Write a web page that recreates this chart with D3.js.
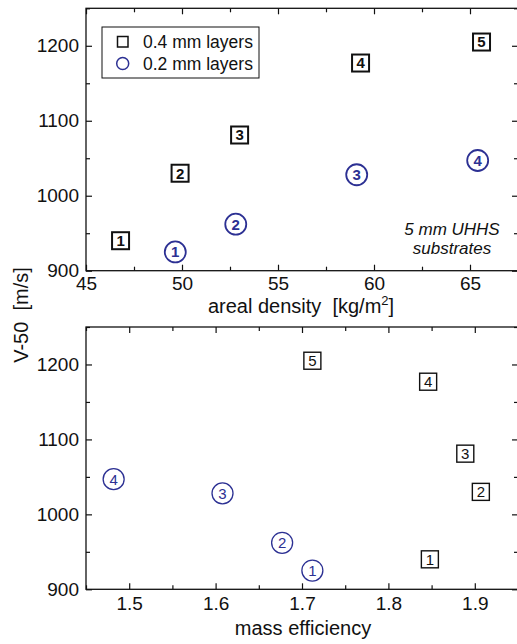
<!DOCTYPE html>
<html lang="en">
<head>
<meta charset="utf-8">
<title>V-50 vs areal density and mass efficiency</title>
<script src="https://cdn.jsdelivr.net/npm/d3@7"></script>
<style>
  body { margin: 0; background: #fff; }
  svg { display: block; font-family: "Liberation Sans", Arial, Helvetica, sans-serif; }
  .tick line { stroke: #111; stroke-width: 1.2; }
  .tick text { font-size: 19px; fill: #111; }
  .frame { fill: none; stroke: #111; stroke-width: 1.3; }
</style>
</head>
<body>
<svg width="517" height="644"></svg>
<script>
// data
var sqLabels = [1, 2, 3, 4, 5];          // 0.4 mm layers
var ciLabels = [1, 2, 3, 4];             // 0.2 mm layers
var areal04 = [46.8, 49.9, 53.0, 59.3, 65.6];
var v50_04  = [940, 1030, 1081, 1177, 1205];
var eff04   = [1.848, 1.907, 1.889, 1.846, 1.712];
var areal02 = [49.65, 52.8, 59.1, 65.4];
var v50_02  = [925, 962, 1028, 1047];
var eff02   = [1.712, 1.677, 1.608, 1.482];

var yTicks = [900, 1000, 1100, 1200];
var yMinor = [950, 1050, 1150, 1250];
var arealTicks = [45, 50, 55, 60, 65];
var arealMinor = [47.5, 52.5, 57.5, 62.5, 67.5];
var effTicks = [1.5, 1.6, 1.7, 1.8, 1.9];
var effMinor = [1.45, 1.55, 1.65, 1.75, 1.85, 1.95];

var blue = "#2c3093";
var svg = d3.select("svg");
var left = 86, right = 518;

function noDomain(a) { a.select(".domain").remove(); }

function panel(top, bottom, xDomain, xTicks, xMinor, fmt, xs04, xs02, bold, pad) {
  var x = d3.scaleLinear().domain(xDomain).range([left, right]);
  var y = d3.scaleLinear().domain([900, 1250]).range([bottom, top]);
  var g = svg.append("g");

  // bottom axis with labels, inward ticks
  g.append("g").attr("transform", "translate(0," + bottom + ")")
    .call(d3.axisBottom(x).tickValues(xTicks).tickSize(-6).tickPadding(pad).tickFormat(fmt)).call(noDomain);
  g.append("g").attr("transform", "translate(0," + bottom + ")")
    .call(d3.axisBottom(x).tickValues(xMinor).tickSize(-4).tickFormat("")).call(noDomain);
  // top mirror ticks
  g.append("g").attr("transform", "translate(0," + top + ")")
    .call(d3.axisTop(x).tickValues(xTicks).tickSize(-6).tickFormat("")).call(noDomain);
  g.append("g").attr("transform", "translate(0," + top + ")")
    .call(d3.axisTop(x).tickValues(xMinor).tickSize(-4).tickFormat("")).call(noDomain);
  // left axis
  g.append("g").attr("transform", "translate(" + left + ",0)")
    .call(d3.axisLeft(y).tickValues(yTicks).tickSize(-6).tickPadding(7).tickFormat(d3.format("d"))).call(noDomain);
  g.append("g").attr("transform", "translate(" + left + ",0)")
    .call(d3.axisLeft(y).tickValues(yMinor).tickSize(-4).tickFormat("")).call(noDomain);
  // right mirror
  g.append("g").attr("transform", "translate(" + right + ",0)")
    .call(d3.axisRight(y).tickValues(yTicks).tickSize(-6).tickFormat("")).call(noDomain);
  g.append("g").attr("transform", "translate(" + right + ",0)")
    .call(d3.axisRight(y).tickValues(yMinor).tickSize(-4).tickFormat("")).call(noDomain);
  g.selectAll(".tick text").attr("font-family", null).attr("font-size", null);

  g.append("rect").attr("class", "frame")
    .attr("x", left).attr("y", top).attr("width", right - left).attr("height", bottom - top);

  var s = 17;
  var sq = g.selectAll(".sq").data(sqLabels).enter().append("g")
    .attr("transform", function(d, i) { return "translate(" + x(xs04[i]) + "," + y(v50_04[i]) + ")"; });
  sq.append("rect").attr("x", -s / 2).attr("y", -s / 2).attr("width", s).attr("height", s)
    .attr("fill", "#fff").attr("stroke", "#111").attr("stroke-width", bold ? 2 : 1.4);
  sq.append("text").attr("text-anchor", "middle").attr("dy", "0.36em")
    .attr("font-size", 15).attr("font-weight", bold ? "bold" : "normal").attr("fill", "#111")
    .text(function(d) { return d; });

  var ci = g.selectAll(".ci").data(ciLabels).enter().append("g")
    .attr("transform", function(d, i) { return "translate(" + x(xs02[i]) + "," + y(v50_02[i]) + ")"; });
  ci.append("circle").attr("r", 10.5)
    .attr("fill", "#fff").attr("stroke", blue).attr("stroke-width", bold ? 1.8 : 1.3);
  ci.append("text").attr("text-anchor", "middle").attr("dy", "0.36em")
    .attr("font-size", 15).attr("font-weight", bold ? "bold" : "normal").attr("fill", blue)
    .text(function(d) { return d; });
  return g;
}

var top1 = panel(8.3, 270.7, [45, 67.5], arealTicks, arealMinor, d3.format("d"), areal04, areal02, true, 5.8);
panel(327, 589.3, [1.45, 1.95], effTicks, effMinor, d3.format(".1f"), eff04, eff02, false, 7.5);

// legend
var lg = top1.append("g");
lg.append("rect").attr("x", 102).attr("y", 27).attr("width", 157).attr("height", 51)
  .attr("fill", "#fff").attr("stroke", "#111").attr("stroke-width", 1);
lg.append("rect").attr("x", 117.5).attr("y", 36.5).attr("width", 10.5).attr("height", 10.5)
  .attr("fill", "none").attr("stroke", "#111").attr("stroke-width", 1.5);
lg.append("circle").attr("cx", 122.7).attr("cy", 63.5).attr("r", 6)
  .attr("fill", "none").attr("stroke", blue).attr("stroke-width", 1.5);
lg.append("text").attr("x", 143).attr("y", 48).attr("font-size", 17.5).attr("fill", "#111").text("0.4 mm layers");
lg.append("text").attr("x", 143).attr("y", 70).attr("font-size", 17.5).attr("fill", "#111").text("0.2 mm layers");

// note
svg.append("text").attr("x", 452).attr("y", 235).attr("text-anchor", "middle")
  .attr("font-size", 17).attr("font-style", "italic").attr("fill", "#111").text("5 mm UHHS");
svg.append("text").attr("x", 452).attr("y", 254).attr("text-anchor", "middle")
  .attr("font-size", 17).attr("font-style", "italic").attr("fill", "#111").text("substrates");

// axis titles
var xt = svg.append("text").attr("x", 301).attr("y", 313).attr("text-anchor", "middle")
  .attr("font-size", 20).attr("fill", "#111").attr("xml:space", "preserve");
xt.append("tspan").text("areal density  [kg/m");
xt.append("tspan").attr("font-size", 13).attr("dy", -8).text("2");
xt.append("tspan").attr("dy", 8).text("]");

svg.append("text").attr("x", 303).attr("y", 635).attr("text-anchor", "middle")
  .attr("font-size", 20).attr("fill", "#111").text("mass efficiency");

svg.append("text").attr("transform", "translate(28,315) rotate(-90)").attr("text-anchor", "middle")
  .attr("font-size", 20).attr("fill", "#111").attr("xml:space", "preserve").text("V-50  [m/s]");
</script>
</body>
</html>
